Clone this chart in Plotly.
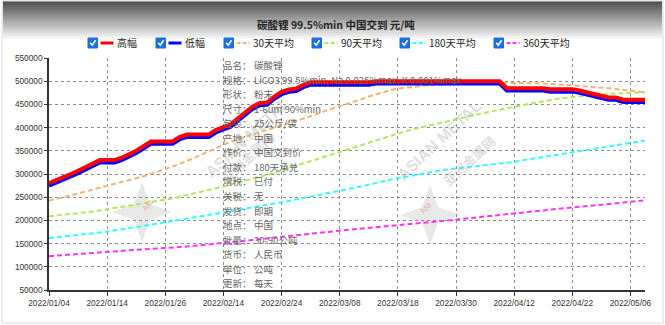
import plotly.graph_objects as go

dates = ["2022/01/04","2022/01/05","2022/01/06","2022/01/07","2022/01/10","2022/01/11","2022/01/12","2022/01/13",
         "2022/01/14","2022/01/17","2022/01/18","2022/01/19","2022/01/20","2022/01/21","2022/01/24","2022/01/25",
         "2022/01/26","2022/01/27","2022/01/28","2022/02/07","2022/02/08","2022/02/09","2022/02/10","2022/02/11",
         "2022/02/14","2022/02/15","2022/02/16","2022/02/17","2022/02/18","2022/02/21","2022/02/22","2022/02/23",
         "2022/02/24","2022/02/25","2022/02/28","2022/03/01","2022/03/02","2022/03/03","2022/03/04","2022/03/07",
         "2022/03/08","2022/03/09","2022/03/10","2022/03/11","2022/03/14","2022/03/15","2022/03/16","2022/03/17",
         "2022/03/18","2022/03/21","2022/03/22","2022/03/23","2022/03/24","2022/03/25","2022/03/28","2022/03/29",
         "2022/03/30","2022/03/31","2022/04/01","2022/04/02","2022/04/06","2022/04/07","2022/04/08","2022/04/11",
         "2022/04/12","2022/04/13","2022/04/14","2022/04/15","2022/04/18","2022/04/19","2022/04/20","2022/04/21",
         "2022/04/22","2022/04/24","2022/04/25","2022/04/26","2022/04/27","2022/04/28","2022/04/29","2022/05/05",
         "2022/05/06","2022/05/07","2022/05/09"]

high = [280000,286000,293000,300000,307000,314000,322000,330000,330000,330000,335000,342000,350000,360000,370000,370000,
        370000,370000,380000,385000,385000,385000,385000,395000,401000,407000,420000,432000,445000,453000,454000,467000,
        477000,482000,484000,492000,497500,497500,497500,497500,497500,497500,497500,497500,497500,500000,500000,500000,
        500000,500000,500000,500000,500000,500000,500000,500000,500000,500000,500000,500000,500000,500000,500000,485000,
        485000,485000,485000,485000,485000,482500,482500,482500,482500,480000,476000,472000,467500,465000,465000,460000,
        460000,460000,460000]

low = [275000,281000,288000,295000,302000,309000,317000,325000,325000,325000,330000,337000,345000,355000,365000,365000,
       365000,365000,375000,380000,380000,380000,380000,390000,396000,402000,415000,427000,440000,448000,449000,462000,
       472000,477000,479000,487000,492500,492500,492500,492500,492500,492500,492500,492500,492500,495000,495000,495000,
       495000,495000,495000,495000,495000,495000,495000,495000,495000,495000,495000,495000,495000,495000,495000,480000,
       480000,480000,480000,480000,480000,477500,477500,477500,477500,475000,471000,467000,462500,460000,460000,455000,
       455000,455000,455000]

avg30 = [243000,246000,250000,254000,258000,262000,266000,270000,275000,279000,283000,287000,291000,295000,300000,305000,
         310000,316000,322000,328000,335000,342000,349000,356000,363000,370000,375000,380000,386000,391000,396000,401000,
         405000,410000,414000,419000,424000,430000,436000,441000,446000,450000,455000,461000,467000,472000,477000,481000,
         484000,486000,488000,490000,491000,492000,493000,494000,495000,495500,496000,496500,497000,497000,497000,497000,
         496500,496000,496000,495500,495000,494500,493000,492000,491000,490000,489000,487000,486000,485000,483000,481000,
         479000,478000,476000]

avg90 = [209000,210500,212000,213500,215000,217000,219000,221500,224000,226000,228500,231000,233500,236000,238500,241000,
         244000,247500,251000,254500,258000,262000,266000,270000,273500,277000,281000,285000,289500,294000,298500,303000,
         308000,313000,318000,323000,328000,333000,338000,343000,348000,353000,358000,363000,368000,373000,378000,383000,
         388000,392000,396000,400000,403500,407000,410500,414000,418000,421500,425000,428500,432000,435500,439000,442000,
         445000,448000,451000,454000,457000,459500,462000,464000,466000,467500,469000,470500,472000,473000,474000,474500,
         475000,475500,476000]

avg180 = [162000,163500,165000,167000,168500,170000,172000,174000,176000,178000,180500,183000,185500,188000,190500,193000,
          195500,198000,200500,203000,205500,208500,211500,214500,217500,220000,222500,225000,228000,231000,233500,236000,
          239000,242000,245000,248000,251000,254000,257000,260000,263000,266500,270000,273500,277000,281000,285000,288000,
          291000,294000,297000,300000,303000,306000,308000,310000,312000,314000,316000,318000,319500,321000,322500,324000,
          326500,329000,331500,334000,336500,339000,341500,344000,346500,349000,351500,354000,356500,359000,361500,364000,
          366500,369500,372000]

avg360 = [123000,124200,125500,126800,128000,129200,130500,131800,133000,134000,135000,135800,136600,137400,138200,139000,
          140000,141200,142400,143800,145200,146600,148000,149500,151000,152500,154200,156000,157800,159600,161400,163200,
          165000,166600,168200,169800,171400,173000,174600,176200,177800,179400,181000,182600,184200,185700,187200,188600,
          190000,191400,192800,194200,195600,197000,198500,200200,202000,203800,205500,207200,209000,210800,212600,214400,
          216000,217500,219000,220500,222000,223500,225000,226500,228000,229500,231000,232500,234000,235500,237000,238500,
          240000,241500,243000]

tick_dates = ["2022/01/04","2022/01/14","2022/01/26","2022/02/14","2022/02/24","2022/03/08",
              "2022/03/18","2022/03/30","2022/04/12","2022/04/22","2022/05/06"]

title_text = "碳酸锂 99.5%min 中国交到 元/吨"
series_names = ["高幅", "低幅", "30天平均", "90天平均", "180天平均", "360天平均"]
info_labels = ["品名：","规格：","形状：","尺寸：","包装：","产地：","作价：","付款：","增税：","关税：",
               "发货：","地点：","批量：","货币：","单位：","更新："]
info_values = ["碳酸锂","LiCO3 99.5%min, Na 0.025%max, K 0.001%max","粉末","1-6um 90%min","25公斤/袋","中国",
               "中国交到价","180天承兑","已付","无","即期","中国","30-90公吨","人民币","公吨","每天"]

W, H = 665, 325
L, R, T, B = 49, 20, 58, 35
PW, PH = W - L - R, H - T - B


def PX(x):
    return (x - L) / PW


def PY(y):
    return (H - B - y) / PH


FONT = "Liberation Sans, Noto Sans CJK SC, sans-serif"
CJK = "Noto Sans CJK SC, sans-serif"

colors = ["#ff0000", "#0000ff", "#f4b27a", "#b4e65e", "#33ffff", "#ff33ff"]

fig = go.Figure()
for name, ys, c in [(series_names[5], avg360, colors[5]), (series_names[4], avg180, colors[4]),
                    (series_names[3], avg90, colors[3]), (series_names[2], avg30, colors[2])]:
    fig.add_trace(go.Scatter(x=dates, y=ys, name=name, mode="lines",
                             line=dict(color=c, width=2, dash="5px,3px")))
fig.add_trace(go.Scatter(x=dates, y=low, name=series_names[1], mode="lines",
                         line=dict(color=colors[1], width=4)))
fig.add_trace(go.Scatter(x=dates, y=high, name=series_names[0], mode="lines",
                         line=dict(color=colors[0], width=4)))

shapes = []
annotations = []

# header gradient
steps = 20
for k in range(steps):
    y0 = 1 + k * 2
    t = k / (steps - 1)
    g = int(80 + (255 - 80) * t)
    shapes.append(dict(type="rect", xref="paper", yref="paper", x0=PX(3), x1=PX(662),
                       y0=PY(y0 + 2.2), y1=PY(y0), fillcolor=f"rgb({g},{g},{g})",
                       line=dict(width=0), layer="below"))
shapes.append(dict(type="rect", xref="paper", yref="paper", x0=PX(2), x1=PX(663), y0=PY(323), y1=PY(1),
                   line=dict(color="#d8d8d8", width=1), layer="below"))

# watermarks
for sx, sy in [(142, 212), (430, 215)]:
    pts = [(0, -30), (8, -8), (30, 0), (8, 8), (0, 30), (-8, 8), (-30, 0), (-8, -8)]
    path = "M " + " L ".join(f"{PX(sx + dx)},{PY(sy + dy)}" for dx, dy in pts) + " Z"
    shapes.append(dict(type="path", xref="paper", yref="paper", path=path,
                       fillcolor="rgba(190,190,190,0.35)", line=dict(width=0), layer="below"))
    annotations.append(dict(x=PX(sx - 4), y=PY(sy + 4), xref="paper", yref="paper", text="AM",
                            showarrow=False, textangle=-45,
                            font=dict(size=8, color="rgba(230,120,120,0.5)", family=FONT)))
    annotations.append(dict(x=PX(sx + 57), y=PY(sy - 75), xref="paper", yref="paper", text="<b>ASIAN METAL</b>",
                            showarrow=False, textangle=-43,
                            font=dict(size=16, color="rgba(170,170,170,0.4)", family=FONT)))
    annotations.append(dict(x=PX(sx + 72), y=PY(sy - 55), xref="paper", yref="paper", text="<b>亚洲金属网</b>",
                            showarrow=False, textangle=-43,
                            font=dict(size=13, color="rgba(170,170,170,0.4)", family=CJK)))

# title
annotations.append(dict(x=PX(336), y=PY(24), xref="paper", yref="paper", text="<b>" + title_text + "</b>",
                        showarrow=False, xanchor="center", yanchor="middle",
                        font=dict(size=10.5, color="#222", family=CJK)))

# custom legend with checkboxes
leg_y = 43
leg_boxes = [88, 156, 224, 312, 400, 494]
leg_dash = ["solid", "solid", "dash", "dash", "dash", "dash"]
leg_w = [3, 3, 2, 2, 2, 2]
for i, bx in enumerate(leg_boxes):
    shapes.append(dict(type="rect", xref="paper", yref="paper", x0=PX(bx), x1=PX(bx + 9.5),
                       y0=PY(leg_y + 5), y1=PY(leg_y - 5), fillcolor="#1b6fe0",
                       line=dict(color="#1b6fe0", width=1)))
    chk = [(bx + 2.2, leg_y - 0.2), (bx + 4.2, leg_y + 2.2), (bx + 7.6, leg_y - 2.8)]
    shapes.append(dict(type="path", xref="paper", yref="paper",
                       path="M " + " L ".join(f"{PX(a)},{PY(b)}" for a, b in chk),
                       line=dict(color="white", width=1.6)))
    shapes.append(dict(type="line", xref="paper", yref="paper", x0=PX(bx + 12.5), x1=PX(bx + 25.5),
                       y0=PY(leg_y), y1=PY(leg_y),
                       line=dict(color=colors[i], width=leg_w[i],
                                 dash="4px,2px" if leg_dash[i] == "dash" else "solid")))
    annotations.append(dict(x=PX(bx + 27), y=PY(leg_y), xref="paper", yref="paper", text=series_names[i],
                            showarrow=False, xanchor="left", yanchor="middle",
                            font=dict(size=10, color="#222", family=CJK)))

# info block
for i, (lab, val) in enumerate(zip(info_labels, info_values)):
    yy = 65 + i * 14.55
    annotations.append(dict(x=PX(221), y=PY(yy), xref="paper", yref="paper", text=lab, showarrow=False,
                            xanchor="left", yanchor="middle", font=dict(size=9.5, color="#666", family=CJK)))
    annotations.append(dict(x=PX(252), y=PY(yy), xref="paper", yref="paper", text=val, showarrow=False,
                            xanchor="left", yanchor="middle", font=dict(size=9.5, color="#666", family=CJK)))

fig.update_layout(
    width=W, height=H,
    margin=dict(l=L, r=R, t=T, b=B, pad=0),
    paper_bgcolor="white", plot_bgcolor="white",
    showlegend=False,
    shapes=shapes, annotations=annotations,
    font=dict(family=FONT, size=8.3, color="#333"),
    xaxis=dict(type="category", range=[0, len(dates) - 1], tickmode="array", tickvals=tick_dates,
               ticktext=tick_dates, showgrid=True, gridcolor="#8c8c8c", griddash="dot", gridwidth=1,
               showline=True, linecolor="#333", linewidth=1.5, ticks="outside", ticklen=4,
               tickcolor="#333", tickangle=0, tickfont=dict(size=8.3, color="#333"), zeroline=False),
    yaxis=dict(range=[50000, 550000], dtick=50000, tick0=50000, tickformat="d", showgrid=True,
               gridcolor="#8c8c8c", griddash="dot", gridwidth=1, showline=True, linecolor="#333",
               linewidth=1.5, ticks="outside", ticklen=3, tickcolor="#333",
               tickfont=dict(size=8.3, color="#333"), zeroline=False),
)

fig.write_html("out.html")
